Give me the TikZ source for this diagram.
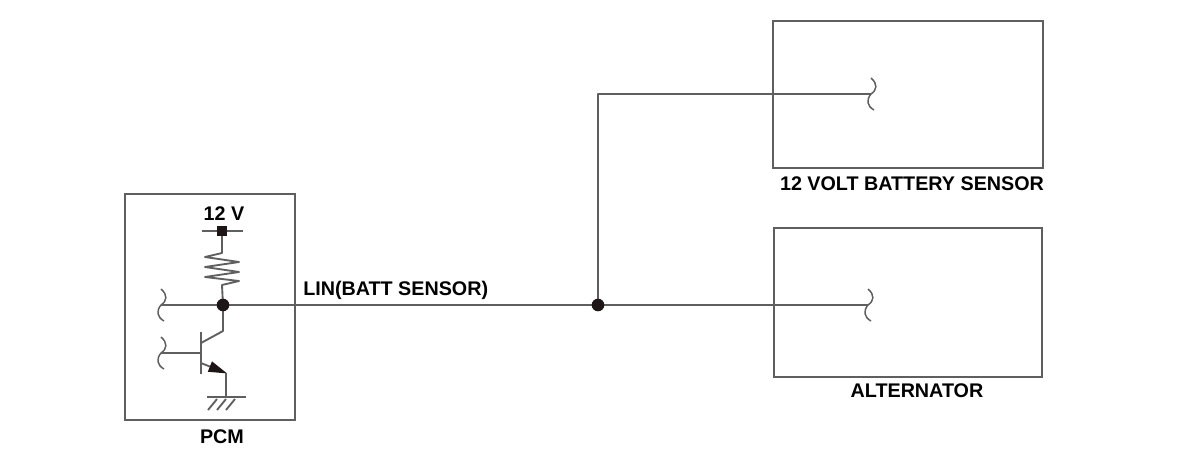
\documentclass[tikz,border=0pt]{standalone}
\usepackage{fontspec}
\setmainfont{Liberation Sans}
\usetikzlibrary{arrows.meta,calc,backgrounds}
\definecolor{wirec}{RGB}{95,95,95}
\definecolor{inkc}{RGB}{30,22,22}
\tikzset{
  wire/.style={draw=wirec, line width=1.4pt, line join=round},
  box/.style={draw=wirec, line width=1.4pt, rectangle, inner sep=0pt},
  lbl/.style={font=\bfseries\fontsize{14.8}{17}\selectfont, text=black, inner sep=0pt},
  jdot/.style={circle, fill=inkc, inner sep=0pt, minimum size=9.5pt},
  term/.style={rectangle, fill=inkc, inner sep=0pt, minimum size=7pt},
  squig/.style={draw=wirec, line width=1.1pt},
}
\begin{document}
\begin{tikzpicture}[x=0.75pt,y=-0.75pt]
\useasboundingbox (0,0) rectangle (1200,454);
% boxes
\node[box, minimum width=127.5pt, minimum height=169.5pt] (pcm) at (210,307) {};
\node[box, minimum width=202.5pt, minimum height=110.25pt] (bsens) at (908,94.5) {};
\node[box, minimum width=201.5pt, minimum height=111.75pt] (alt) at (908,302.5) {};
% labels
\node[lbl] (pcmlbl) at (222,437) {PCM};
\node[lbl] (bslbl) at (912,184) {12 VOLT BATTERY SENSOR};
\node[lbl] (altlbl) at (917,391) {ALTERNATOR};
\node[lbl] (vlbl) at (224,214) {12 V};
\node[lbl, anchor=west] (linlbl) at (303,290) {LIN(BATT SENSOR)};
% key points
\node[jdot] (n1) at (223,305) {};
\node[jdot] (j) at (598,305) {};
\node[term] (t12) at (222,231) {};
\coordinate (tl) at (202,231);
\coordinate (tr) at (243,231);
\coordinate (sqL1) at (161,305);
\coordinate (sqL2) at (161,353);
\coordinate (sqA) at (868,305);
\coordinate (sqB) at (871,94);
\coordinate (jtop) at (598,94);
\begin{scope}[on background layer]
% squiggles
\foreach \p in {sqL1,sqL2,sqA,sqB}{
  \draw[squig] ($(\p)+(0,-16)$) .. controls ($(\p)+(7,-10)$) and ($(\p)+(6,-4)$) .. (\p)
     .. controls ($(\p)+(-5,6)$) and ($(\p)+(-4,12)$) .. ($(\p)+(3,16)$);
}
% wires
\draw[wire] (sqL1) -- (n1.center) -- (j.center) -- (sqA);
\draw[wire] (j.center) -- (jtop) -- (sqB);
\draw[wire] (tl) -- (tr);
% resistor
\draw[wire] (t12.center) -- (222,253) -- (205,257) -- (239,262) -- (205,267) -- (239,272) -- (205,277) -- (239,281) -- (222,285) -- (n1.center);
% transistor
\coordinate (bbT) at (201,332);
\coordinate (bbB) at (201,374);
\coordinate (bmid) at (201,353);
\coordinate (etip) at (226,373);
\coordinate (gnd) at (226,397);
\draw[wire, line width=1.7pt] (bbT) -- (bbB);
\draw[wire] (n1.center) -- (223,331) -- (201,343);
\draw[wire] (sqL2) -- (bmid);
\draw[wire, -{Triangle[length=14pt,width=8pt,color=inkc]}, shorten >=-1pt] (201,363) -- (etip);
\draw[wire] (etip) -- (gnd);
% ground
\draw[wire] (207,397) -- (246,397);
\draw[wire] (217,399) -- (208,410);
\draw[wire] (226,399) -- (217,410);
\draw[wire] (235,399) -- (226,410);
\end{scope}
\end{tikzpicture}
\end{document}
